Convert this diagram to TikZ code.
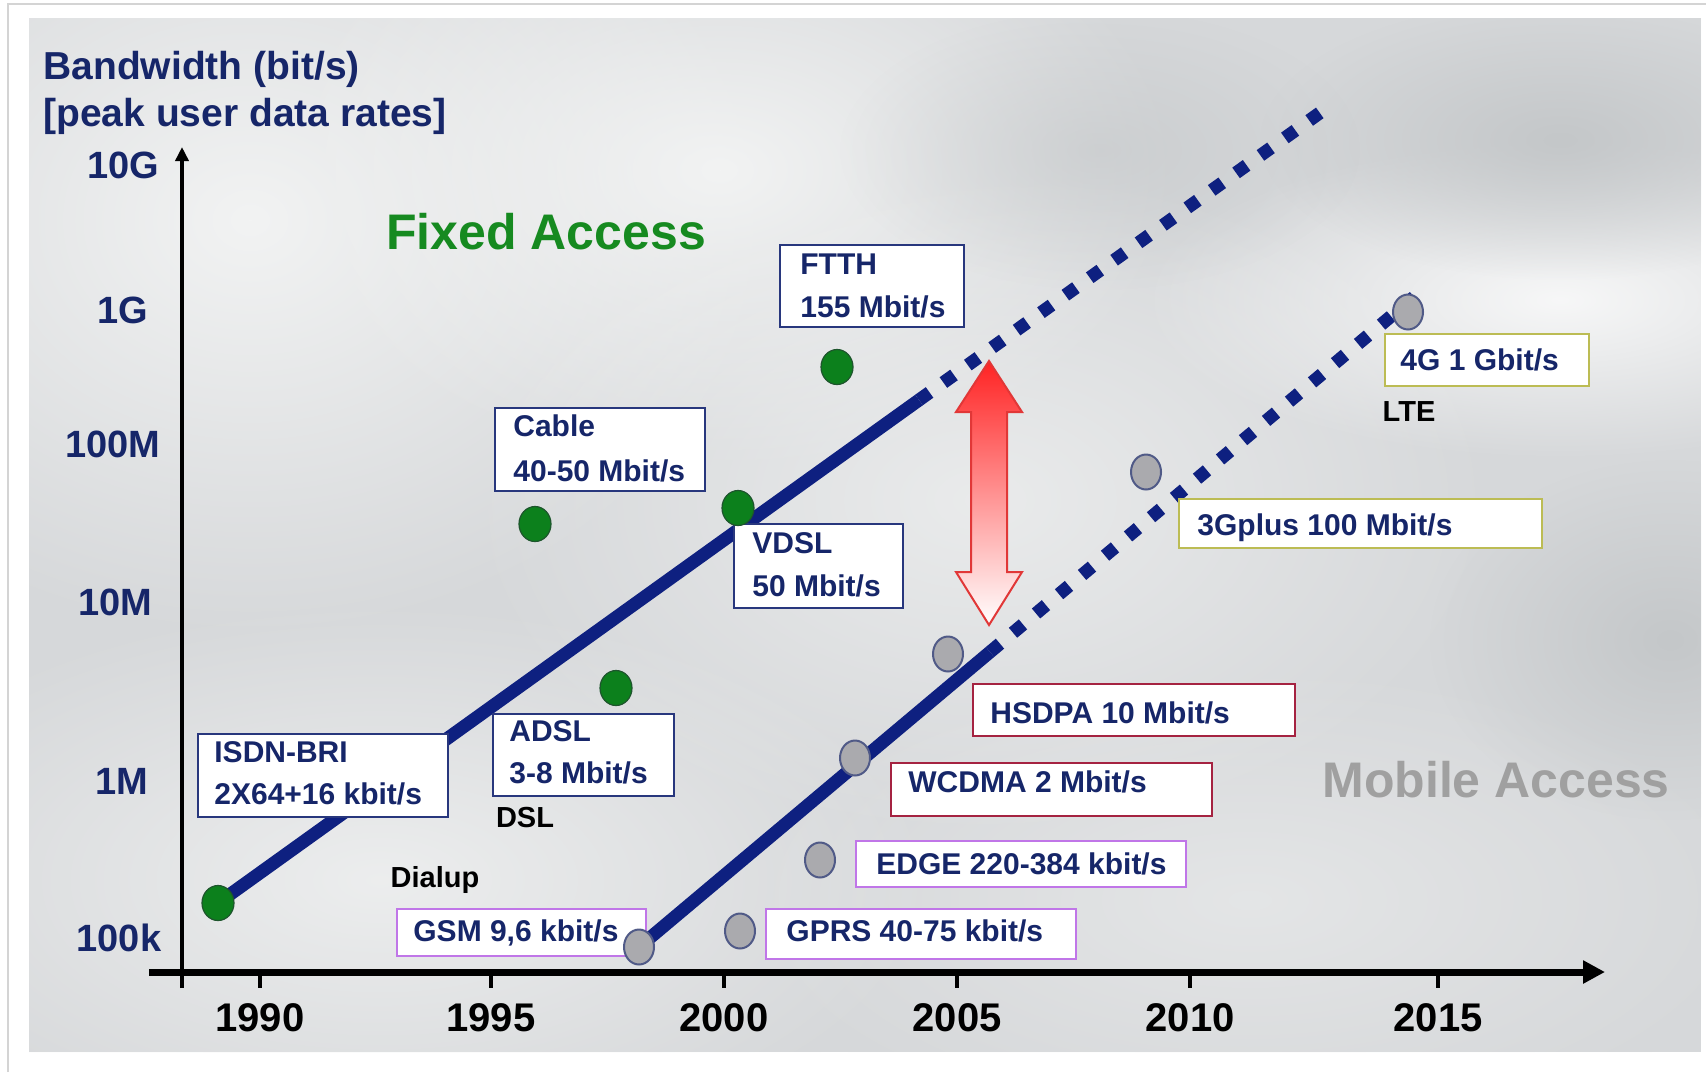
\documentclass[tikz,border=0pt]{standalone}
\usepackage{fontspec}
\setmainfont{Liberation Sans}
\usetikzlibrary{arrows.meta,shapes.geometric,fadings}

\definecolor{navyline}{RGB}{14,32,128}
\definecolor{navytext}{RGB}{22,38,105}
\definecolor{dotgreen}{RGB}{12,128,28}
\definecolor{dotgreenb}{RGB}{30,85,45}
\definecolor{dotgray}{RGB}{170,170,174}
\definecolor{dotgrayb}{RGB}{80,90,135}
\definecolor{bviolet}{RGB}{192,118,232}
\definecolor{bred}{RGB}{165,35,65}
\definecolor{bolive}{RGB}{188,188,84}
\definecolor{bnavy}{RGB}{40,55,125}
\definecolor{fixgreen}{RGB}{22,138,32}
\definecolor{mobgray}{RGB}{160,160,160}
\definecolor{bgbase}{RGB}{214,216,218}
\definecolor{bglight}{RGB}{242,243,243}
\definecolor{bgdark}{RGB}{196,199,201}
\definecolor{arrred}{RGB}{255,35,35}
\definecolor{arrline}{RGB}{225,55,55}

\tikzfading[name=softblob, inner color=transparent!0, outer color=transparent!100]

\newcommand{\labbox}[6]{\node[lbox, draw=#6, anchor=north west,
  minimum width={(#4-#2)*0.5pt}, minimum height={(#5-#3)*0.5pt}] (#1) at (#2,#3) {};}

\begin{document}
\begin{tikzpicture}[x=0.5pt,y=-0.5pt,
  lbox/.style={rectangle, fill=white, line width=1pt, inner sep=0pt},
  boxtext/.style={anchor=base west, inner sep=0pt, text=navytext, font=\fontsize{15}{18}\selectfont\bfseries},
  ylab/.style={anchor=base, inner sep=0pt, text=navytext, font=\fontsize{19}{22}\selectfont\bfseries},
  yearlab/.style={anchor=base, inner sep=0pt, text=black, font=\fontsize{20}{24}\selectfont\bfseries},
  blacklab/.style={anchor=base, inner sep=0pt, text=black, font=\fontsize{14.5}{17}\selectfont\bfseries},
  bigtitle/.style={anchor=base west, inner sep=0pt, font=\fontsize{25}{30}\selectfont\bfseries},
  gdot/.style={ellipse, draw=dotgreenb, fill=dotgreen, line width=0.6pt, minimum width=16pt, minimum height=17.5pt, inner sep=0pt},
  mdot/.style={ellipse, draw=dotgrayb, fill=dotgray, line width=1pt, minimum width=15pt, minimum height=17.5pt, inner sep=0pt},
  trendline/.style={draw=navyline, line width=6.5pt},
  trenddash/.style={draw=navyline, line width=6.5pt, dash pattern=on 6.5pt off 8.5pt},
  tickline/.style={line width=2pt, draw=black},
  blob/.style={path fading=softblob}
]
\useasboundingbox (0,0) rectangle (1706,1072);
\fill[white] (0,0) rectangle (1706,1072);
\draw[line width=1pt, draw={rgb,255:red,212;green,212;blue,212}] (8,1072) -- (8,4) -- (1706,4);

% background
\begin{scope}
\clip (29,18) rectangle (1701,1052);
\fill[bgbase] (29,18) rectangle (1701,1052);
\fill[bglight, blob] (250,220) ellipse [x radius=520, y radius=420];
\fill[bglight, blob] (720,170) ellipse [x radius=460, y radius=300];
\fill[bglight, blob, opacity=0.7] (980,500) ellipse [x radius=520, y radius=340];
\fill[white, blob, opacity=0.8] (1560,300) ellipse [x radius=420, y radius=160];
\fill[bglight, blob, opacity=0.8] (380,880) ellipse [x radius=560, y radius=280];
\fill[bglight, blob, opacity=0.5] (1250,900) ellipse [x radius=520, y radius=240];
\fill[bgdark, blob] (1560,140) ellipse [x radius=300, y radius=140];
\fill[bgdark, blob] (1670,640) ellipse [x radius=240, y radius=180];
\fill[bgdark, blob, opacity=0.6] (1100,150) ellipse [x radius=260, y radius=140];
\end{scope}

% titles
\node[anchor=base west, inner sep=0pt, text=navytext, font=\fontsize{19.5}{23}\selectfont\bfseries] (title1) at (43,79) {Bandwidth (bit/s)};
\node[anchor=base west, inner sep=0pt, text=navytext, font=\fontsize{19.5}{23}\selectfont\bfseries] (title2) at (43,126) {[peak user data rates]};

% axes
\coordinate (ytop) at (182,147);
\coordinate (ybot) at (182,988);
\coordinate (xl) at (149,972);
\coordinate (xr) at (1605,972);
\draw[line width=2.3pt, -{Triangle[length=7pt,width=6.5pt]}] (ybot) -- (ytop);
\draw[line width=3.5pt, -{Triangle[length=11pt,width=11pt]}] (xl) -- (xr);

\foreach \nm/\xx in {t1990/260, t1995/491, t2000/724, t2005/957, t2010/1190, t2015/1438}{
  \coordinate (\nm a) at (\xx,972);
  \coordinate (\nm b) at (\xx,988);
  \draw[tickline] (\nm a) -- (\nm b);
}

\node[yearlab] (y1990) at (260,1031) {1990};
\node[yearlab] (y1995) at (491,1031) {1995};
\node[yearlab] (y2000) at (724,1031) {2000};
\node[yearlab] (y2005) at (957,1031) {2005};
\node[yearlab] (y2010) at (1190,1031) {2010};
\node[yearlab] (y2015) at (1438,1031) {2015};

\node[ylab] (l10G) at (123,178.5) {10G};
\node[ylab] (l1G) at (123,323.5) {1G};
\node[ylab] (l100M) at (113,457.5) {100M};
\node[ylab] (l10M) at (115,615.5) {10M};
\node[ylab] (l1M) at (122,794.5) {1M};
\node[ylab] (l100k) at (119,951.5) {100k};

\node[bigtitle, text=fixgreen] (fixed) at (386,249) {Fixed Access};
\node[bigtitle, text=mobgray] (mobile) at (1322,797) {Mobile Access};

% line end points
\coordinate (fa) at (218,903);
\coordinate (fb) at (919,400);
\coordinate (fc) at (1328,107);
\coordinate (ma) at (639,947);
\coordinate (mb) at (990,652);
\coordinate (mc) at (1420,292);

% trend lines
\draw[trendline] (fa) -- (fb);
\draw[trenddash] (fb) -- (fc);
\draw[trendline] (ma) -- (mb);
\draw[trenddash] (mb) -- (mc);

% boxes
\labbox{ftth}{779}{244}{963}{326}{bnavy}
\labbox{cable}{494}{407}{704}{490}{bnavy}
\labbox{vdsl}{733}{523}{902}{607}{bnavy}
\labbox{isdn}{197}{733}{447}{816}{bnavy}
\labbox{adsl}{492}{713}{673}{795}{bnavy}
\labbox{gsm}{396}{908}{645}{955}{bviolet}
\labbox{gprs}{765}{908}{1075}{958}{bviolet}
\labbox{edge}{855}{840}{1185}{886}{bviolet}
\labbox{wcdma}{890}{762}{1211}{815}{bred}
\labbox{hsdpa}{972}{683}{1294}{735}{bred}
\labbox{threeg}{1178}{498}{1541}{547}{bolive}
\labbox{fourg}{1384}{333}{1588}{385}{bolive}

\node[boxtext] (ftthA) at (800,274) {FTTH};
\node[boxtext] (ftthB) at (800,317) {155 Mbit/s};
\node[boxtext] (cableA) at (513,436) {Cable};
\node[boxtext] (cableB) at (513,481) {40-50 Mbit/s};
\node[boxtext] (vdslA) at (752,553) {VDSL};
\node[boxtext] (vdslB) at (752,596) {50 Mbit/s};
\node[boxtext] (isdnA) at (214,762) {ISDN-BRI};
\node[boxtext] (isdnB) at (214,804) {2X64+16 kbit/s};
\node[boxtext] (adslA) at (509,741) {ADSL};
\node[boxtext] (adslB) at (509,783) {3-8 Mbit/s};
\node[boxtext] (gsmT) at (413,941) {GSM 9,6 kbit/s};
\node[boxtext] (gprsT) at (786,941) {GPRS 40-75 kbit/s};
\node[boxtext] (edgeT) at (876,874) {EDGE 220-384 kbit/s};
\node[boxtext] (wcdmaT) at (908,792) {WCDMA 2 Mbit/s};
\node[boxtext] (hsdpaT) at (990,723) {HSDPA 10 Mbit/s};
\node[boxtext] (threegT) at (1197,535) {3Gplus 100 Mbit/s};
\node[boxtext] (fourgT) at (1400,370) {4G 1 Gbit/s};

\node[blacklab] (dsl) at (525,827.5) {DSL};
\node[blacklab] (dialup) at (435,887.5) {Dialup};
\node[blacklab] (lte) at (1409,421.5) {LTE};

% dots
\node[gdot] (g1) at (fa) {};
\node[gdot] (g2) at (535,524) {};
\node[gdot] (g3) at (616,688) {};
\node[gdot] (g4) at (738,508) {};
\node[gdot] (g5) at (837,367) {};

\node[mdot] (m1) at (ma) {};
\node[mdot] (m2) at (740,931) {};
\node[mdot] (m3) at (820,860) {};
\node[mdot] (m4) at (855,758) {};
\node[mdot] (m5) at (948,654) {};
\node[mdot] (m6) at (1146,472) {};
\node[mdot] (m7) at (1408,312) {};

% red double arrow
\shadedraw[top color=arrred, bottom color=white, draw=arrline, line width=1pt, line join=miter]
  (989,361) -- (1022,412) -- (1007,412) -- (1007,572) -- (1022,572) -- (989,625)
  -- (956,572) -- (971,572) -- (971,412) -- (956,412) -- cycle;

\end{tikzpicture}
\end{document}
